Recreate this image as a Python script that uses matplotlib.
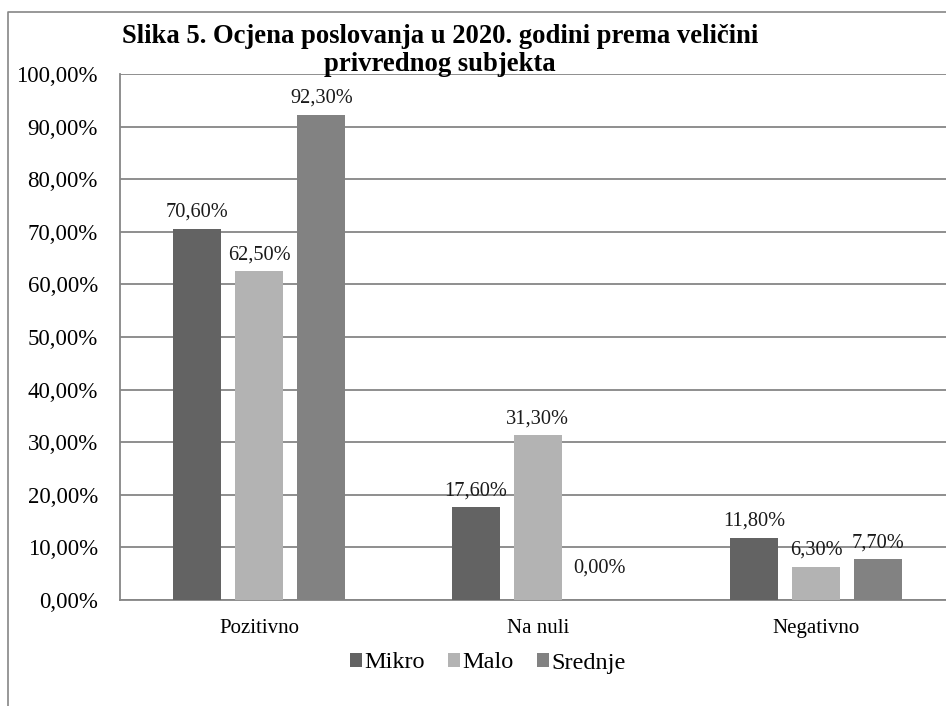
import matplotlib.pyplot as plt
from matplotlib.lines import Line2D
import numpy as np

plt.rcParams['font.family'] = ['Liberation Serif', 'DejaVu Serif']

# podaci
kategorije = ['Pozitivno', 'Na nuli', 'Negativno']
mikro = [70.6, 17.6, 11.8]
malo = [62.5, 31.3, 6.3]
srednje = [92.3, 0.0, 7.7]
serije = ['Mikro', 'Malo', 'Srednje']
boje = ['#636363', '#b3b3b3', '#828282']
yticks = [0, 10, 20, 30, 40, 50, 60, 70, 80, 90, 100]
naslov = ['Slika 5. Ocjena poslovanja u 2020. godini prema veličini', 'privrednog subjekta']

W, H = 946, 706
fig = plt.figure(figsize=(W / 100, H / 100), dpi=100)
ax = fig.add_axes([120 / W, 1 - 600 / H, 835.5 / W, (600 - 74) / H])

x = np.arange(len(kategorije))
sirina = 0.172
pomak = 0.223
for i, (vals, naziv, boja) in enumerate(zip([mikro, malo, srednje], serije, boje)):
    pos = x + (i - 1) * pomak
    ax.bar(pos, vals, width=sirina, color=boja, label=naziv, zorder=3)
    for px, v in zip(pos, vals):
        pad = 16 if v == 0 else 5
        ax.annotate(('%.2f%%' % v).replace('.', ','), (px, v), xytext=(0, pad),
                    textcoords='offset points', ha='center', va='bottom',
                    fontsize=14.7, color='#1a1a1a')

ax.set_xlim(-0.5, 2.5)
ax.set_ylim(0, 100)
ax.set_yticks(yticks)
ax.set_yticklabels([('%.2f%%' % t).replace('.', ',') for t in yticks], fontsize=16.5)
ax.set_xticks(x)
ax.set_xticklabels(kategorije, fontsize=15)
ax.tick_params(axis='y', length=0, pad=16)
ax.tick_params(axis='x', length=0, pad=14)
ax.grid(axis='y', color='#868686', linewidth=1.3, zorder=0)
for s in ['top', 'right']:
    ax.spines[s].set_visible(False)
for s in ['left', 'bottom']:
    ax.spines[s].set_color('#868686')
    ax.spines[s].set_linewidth(1.3)

# naslov u dva reda
fig.text(440 / W, 1 - 43 / H, naslov[0], ha='center', va='baseline',
         fontsize=19.2, fontweight='bold')
fig.text(440 / W, 1 - 71 / H, naslov[1], ha='center', va='baseline',
         fontsize=19.2, fontweight='bold')

fig.legend(loc='center', bbox_to_anchor=(488 / W, 1 - 663 / H), ncol=3, frameon=False,
           fontsize=17.5, handlelength=0.5, handleheight=0.5, handletextpad=0.1,
           columnspacing=0.95)

# okvir grafikona
fig.add_artist(Line2D([8 / W, 8 / W, 1], [0, 1 - 12 / H, 1 - 12 / H],
                      transform=fig.transFigure, color='#868686', linewidth=1.2))

fig.savefig('out.png', dpi=100)
